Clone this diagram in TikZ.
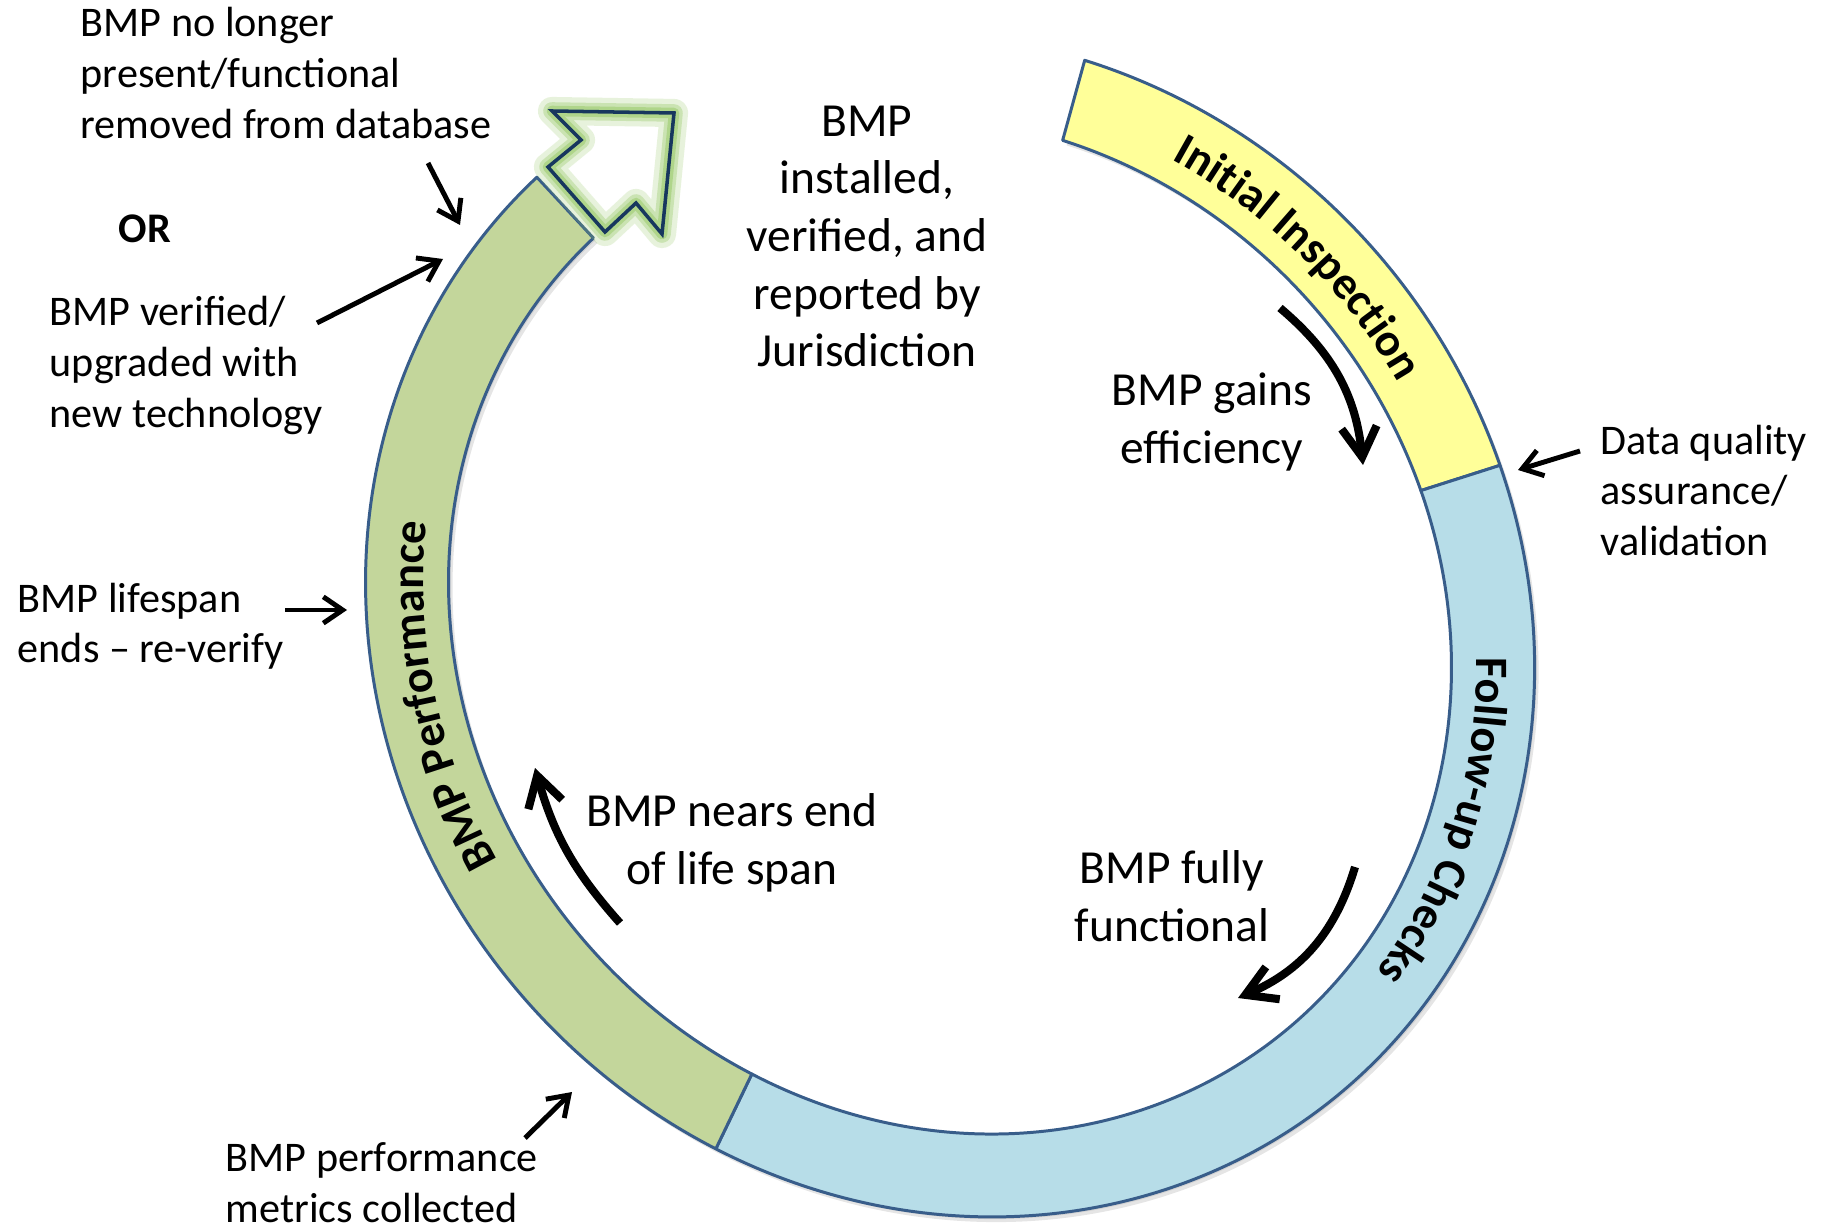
\documentclass[tikz,border=0pt]{standalone}
\usepackage{fontspec}
\setmainfont{Carlito}
\usetikzlibrary{arrows.meta,decorations.text}
\definecolor{ringline}{RGB}{56,93,138}
\definecolor{yel}{RGB}{255,255,153}
\definecolor{blu}{RGB}{183,221,232}
\definecolor{grn}{RGB}{195,214,155}
\definecolor{navy}{RGB}{23,55,94}
\definecolor{glowc}{RGB}{150,200,100}
\newcommand\ringseg[2]{(#1:6.09cm and 5.66cm) arc[start angle=#1, end angle=#2, x radius=6.09cm, y radius=5.66cm] -- (#2:5.26cm and 4.83cm) arc[start angle=#2, end angle=#1, x radius=5.26cm, y radius=4.83cm] -- cycle}
\begin{document}
\begin{tikzpicture}[x=0.01cm, y=-0.01cm,
  lab/.style={inner sep=0pt, font=\fontsize{12}{14.5}\selectfont, align=left},
  inlab/.style={inner sep=0pt, font=\fontsize{13.5}{16.4}\selectfont, align=center},
  seg/.style={draw=ringline, line width=0.85pt, line join=round},
  smallarrow/.style={line width=1.4pt, -{Straight Barb[length=5.5pt,width=7.5pt]}},
  bigarrow/.style={line width=2.3pt, -{Straight Barb[length=8.5pt,width=10pt]}},
  ringtext/.style={decorate, decoration={text along path, text align=center, text={|\fontsize{13.2}{15}\selectfont\bfseries|#1}}}
]
\useasboundingbox (0,0) rectangle (1828,1228);
\fill[white] (0,0) rectangle (1828,1228);

% shadow of ring
\begin{scope}[shift={(954,630)}, rotate=-50]
  \fill[black, opacity=0.10] \ringseg{124.6}{-177.1};
\end{scope}
\begin{scope}[shift={(952,627)}, rotate=-50]
  \fill[black, opacity=0.08] \ringseg{124.6}{-177.1};
\end{scope}

% ring segments
\begin{scope}[shift={(950,625)}, rotate=-50]
  \path[seg, fill=yel] \ringseg{124.6}{67.7};
  \path[seg, fill=blu] \ringseg{67.7}{-65.7};
  \path[seg, fill=grn] \ringseg{-65.7}{-177.1};
  \path[ringtext={Initial Inspection}] (124.6:5.51cm and 5.08cm) arc[start angle=124.6, end angle=67.7, x radius=5.51cm, y radius=5.08cm];
  \path[ringtext={Follow-up Checks}] (60:5.51cm and 5.08cm) arc[start angle=60, end angle=0, x radius=5.51cm, y radius=5.08cm];
  \path[ringtext={BMP Performance}] (-65.7:5.51cm and 5.08cm) arc[start angle=-65.7, end angle=-177.1, x radius=5.51cm, y radius=5.08cm];
\end{scope}

% hollow arrow with glow
\coordinate (aA) at (552,111);
\coordinate (aB) at (674,113);
\coordinate (aC) at (662,234);
\coordinate (aD) at (636,203);
\coordinate (aE) at (605,232);
\coordinate (aF) at (548,167);
\coordinate (aG) at (581,140);
\draw[glowc, opacity=0.22, line width=8pt, line join=round] (aA) -- (aB) -- (aC) -- (aD) -- (aE) -- (aF) -- (aG) -- cycle;
\draw[glowc, opacity=0.35, line width=5pt, line join=round] (aA) -- (aB) -- (aC) -- (aD) -- (aE) -- (aF) -- (aG) -- cycle;
\draw[glowc, opacity=0.5, line width=3pt, line join=round] (aA) -- (aB) -- (aC) -- (aD) -- (aE) -- (aF) -- (aG) -- cycle;
\draw[navy, line width=1pt, line join=miter] (aA) -- (aB) -- (aC) -- (aD) -- (aE) -- (aF) -- (aG) -- cycle;

% labels
\node[lab, anchor=north west] (t1) at (80,7) {BMP no longer\\present/functional\\removed from database};
\node[inner sep=0pt, font=\fontsize{12}{14.5}\selectfont\bfseries] (or) at (145,229) {OR};
\node[lab, anchor=north west] (t2) at (49,296) {BMP verified/\\upgraded with\\new technology};
\node[lab, anchor=north west] (t3) at (17,582) {BMP lifespan\\ends – re-verify};
\node[lab, anchor=north west] (t4) at (225,1142) {BMP performance\\metrics collected};
\node[lab, anchor=north west] (t5) at (1600,424) {Data quality\\assurance/\\validation};
\node[inlab, anchor=north] (c1) at (867,105) {BMP\\installed,\\verified, and\\reported by\\Jurisdiction};
\node[inlab, anchor=north] (c2) at (1212,372) {BMP gains\\efficiency};
\node[inlab, anchor=north] (c3) at (1172,850) {BMP fully\\functional};
\node[inlab, anchor=north] (c4) at (732,793) {BMP nears end\\of life span};

% arrow end points
\coordinate (dbS) at (428,163); \coordinate (dbE) at (460,225);
\coordinate (upS) at (317,323); \coordinate (upE) at (443,259);
\coordinate (lsS) at (285,610); \coordinate (lsE) at (347,610);
\coordinate (pmS) at (525,1138); \coordinate (pmE) at (572,1092);
\coordinate (dqS) at (1580,451); \coordinate (dqE) at (1518,470);
\coordinate (geS) at (1280,308); \coordinate (geE) at (1363,465);
\coordinate (ffS) at (1355,867); \coordinate (ffE) at (1238,998);
\coordinate (neS) at (620,923); \coordinate (neE) at (535,768);

\draw[smallarrow] (dbS) -- (dbE);
\draw[smallarrow] (upS) -- (upE);
\draw[smallarrow] (lsS) -- (lsE);
\draw[smallarrow] (pmS) -- (pmE);
\draw[smallarrow] (dqS) -- (dqE);
\draw[bigarrow] (geS) to[bend left=22] (geE);
\draw[bigarrow] (ffS) to[bend left=25] (ffE);
\draw[bigarrow] (neS) to[bend left=13] (neE);
\end{tikzpicture}
\end{document}
